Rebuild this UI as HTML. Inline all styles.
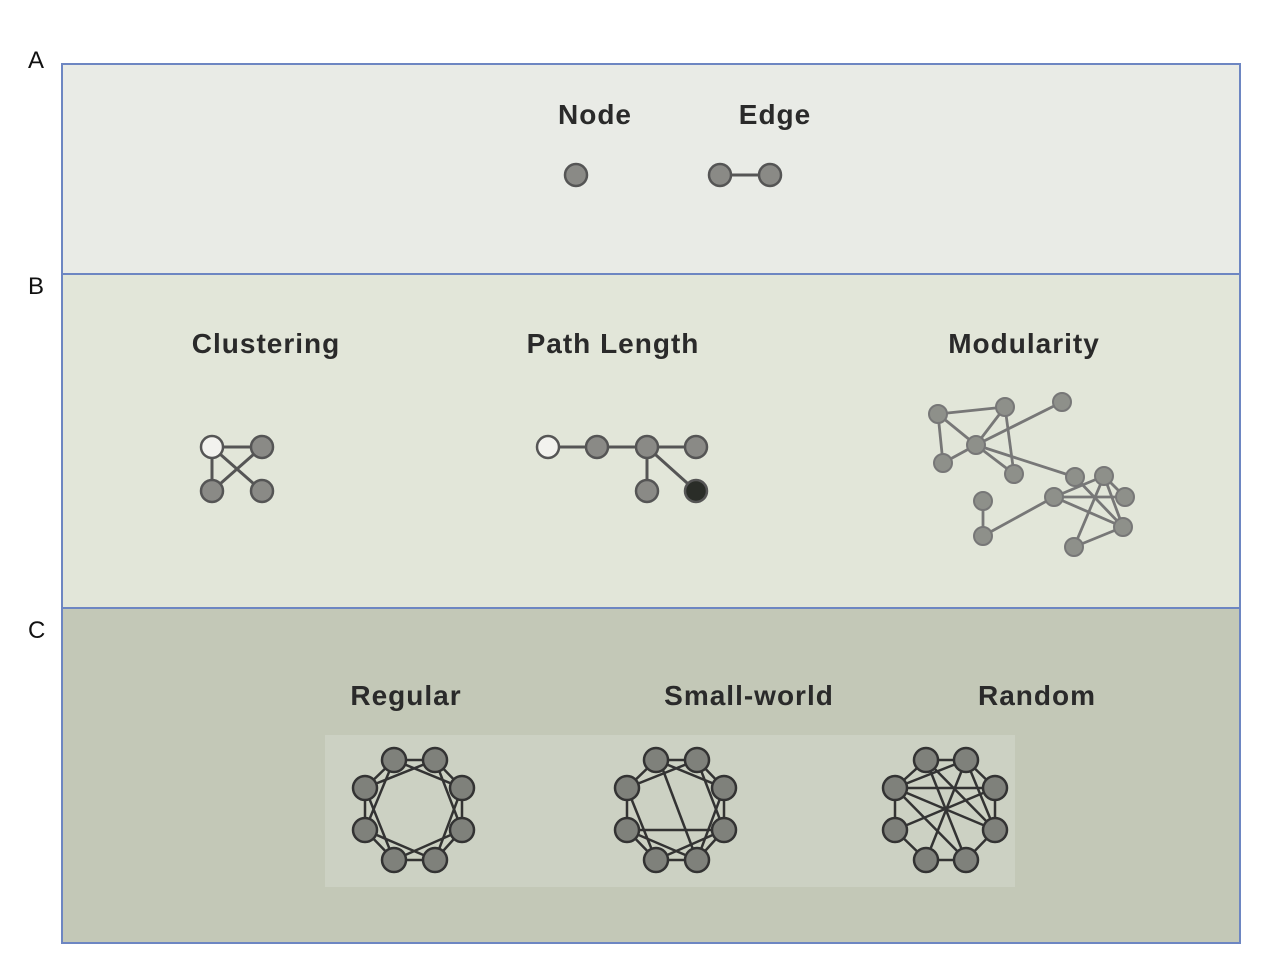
<!DOCTYPE html>
<html><head><meta charset="utf-8"><style>
html,body{margin:0;padding:0;background:#fff;}
svg{display:block;}
text{font-family:"Liberation Sans",sans-serif;}
</style></head><body>
<svg width="1276" height="977" viewBox="0 0 1276 977" xmlns="http://www.w3.org/2000/svg">
<rect x="0" y="0" width="1276" height="977" fill="#ffffff"/>
<rect x="62" y="64" width="1178" height="210" fill="#e9ebe6" stroke="#6d86c2" stroke-width="2"/>
<rect x="62" y="274" width="1178" height="334" fill="#e2e6d9" stroke="#6d86c2" stroke-width="2"/>
<rect x="62" y="608" width="1178" height="335" fill="#c3c8b7" stroke="#6d86c2" stroke-width="2"/>
<rect x="325" y="735" width="690" height="152" fill="#ccd1c3"/>
<g font-size="24" fill="#111">
<text x="28" y="68">A</text><text x="28" y="294">B</text><text x="28" y="638">C</text>
</g>
<g font-size="28" font-weight="bold" fill="#2a2a2a" text-anchor="middle" letter-spacing="1">
<text x="595" y="124">Node</text><text x="775" y="124">Edge</text>
<text x="266" y="353">Clustering</text><text x="613" y="353">Path Length</text><text x="1024" y="353">Modularity</text>
<text x="406" y="705">Regular</text><text x="749" y="705">Small-world</text><text x="1037" y="705">Random</text>
</g>
<g stroke="#555" stroke-width="3">
<line x1="720" y1="175" x2="770" y2="175"/>
<line x1="212" y1="447" x2="262" y2="447"/><line x1="212" y1="447" x2="212" y2="491"/><line x1="212" y1="447" x2="262" y2="491"/><line x1="262" y1="447" x2="212" y2="491"/>
<line x1="548" y1="447" x2="696" y2="447"/><line x1="647" y1="447" x2="647" y2="491"/><line x1="647" y1="447" x2="696" y2="491"/>
</g>
<g stroke="#555" stroke-width="2.5" fill="#8a8a86">
<circle cx="576" cy="175" r="11"/><circle cx="720" cy="175" r="11"/><circle cx="770" cy="175" r="11"/>
<circle cx="212" cy="447" r="11" fill="#f2f2ee"/><circle cx="262" cy="447" r="11"/><circle cx="212" cy="491" r="11"/><circle cx="262" cy="491" r="11"/>
<circle cx="548" cy="447" r="11" fill="#f2f2ee"/><circle cx="597" cy="447" r="11"/><circle cx="647" cy="447" r="11"/><circle cx="696" cy="447" r="11"/><circle cx="647" cy="491" r="11"/><circle cx="696" cy="491" r="11" fill="#2a2d28"/>
</g>
<g stroke="#777" stroke-width="2.8">
<line x1="938" y1="414" x2="1005" y2="407"/><line x1="938" y1="414" x2="976" y2="445"/><line x1="938" y1="414" x2="943" y2="463"/><line x1="943" y1="463" x2="976" y2="445"/><line x1="976" y1="445" x2="1005" y2="407"/><line x1="1005" y1="407" x2="1014" y2="474"/><line x1="976" y1="445" x2="1014" y2="474"/><line x1="976" y1="445" x2="1062" y2="402"/><line x1="976" y1="445" x2="1075" y2="477"/>
<line x1="983" y1="501" x2="983" y2="536"/><line x1="983" y1="536" x2="1054" y2="497"/><line x1="1054" y1="497" x2="1104" y2="476"/><line x1="1054" y1="497" x2="1125" y2="497"/><line x1="1054" y1="497" x2="1123" y2="527"/><line x1="1075" y1="477" x2="1123" y2="527"/><line x1="1104" y1="476" x2="1123" y2="527"/><line x1="1104" y1="476" x2="1074" y2="547"/><line x1="1074" y1="547" x2="1123" y2="527"/><line x1="1104" y1="476" x2="1125" y2="497"/>
</g>
<g stroke="#777" stroke-width="2" fill="#8e908a">
<circle cx="938" cy="414" r="9"/><circle cx="1005" cy="407" r="9"/><circle cx="1062" cy="402" r="9"/><circle cx="976" cy="445" r="9"/><circle cx="943" cy="463" r="9"/><circle cx="1014" cy="474" r="9"/><circle cx="1075" cy="477" r="9"/><circle cx="1104" cy="476" r="9"/><circle cx="1054" cy="497" r="9"/><circle cx="1125" cy="497" r="9"/><circle cx="983" cy="501" r="9"/><circle cx="1123" cy="527" r="9"/><circle cx="983" cy="536" r="9"/><circle cx="1074" cy="547" r="9"/>
</g>
<g stroke="#333" stroke-width="2.5" fill="none">
<polygon points="394,760 435,760 462,788 462,830 435,860 394,860 365,830 365,788"/>
<polygon points="394,760 462,788 435,860 365,830"/><polygon points="435,760 462,830 394,860 365,788"/>
<polygon points="656,760 697,760 724,788 724,830 697,860 656,860 627,830 627,788"/>
<polyline points="656,760 724,788 697,860 627,830"/><polyline points="697,760 724,830 656,860 627,788 697,760"/>
<line x1="663" y1="770" x2="697" y2="860"/><line x1="627" y1="830" x2="724" y2="830"/>
<polygon points="926,760 966,760 995,788 995,830 966,860 926,860 895,830 895,788"/>
<line x1="895" y1="788" x2="995" y2="788"/><line x1="895" y1="788" x2="966" y2="760"/><line x1="895" y1="788" x2="966" y2="860"/><line x1="895" y1="788" x2="995" y2="830"/><line x1="926" y1="760" x2="966" y2="860"/><line x1="966" y1="760" x2="926" y2="860"/><line x1="926" y1="760" x2="995" y2="830"/><line x1="995" y1="788" x2="895" y2="830"/><line x1="966" y1="760" x2="995" y2="830"/>
</g>
<g stroke="#333" stroke-width="2.5" fill="#7f817b">
<circle cx="394" cy="760" r="12"/><circle cx="435" cy="760" r="12"/><circle cx="462" cy="788" r="12"/><circle cx="462" cy="830" r="12"/><circle cx="435" cy="860" r="12"/><circle cx="394" cy="860" r="12"/><circle cx="365" cy="830" r="12"/><circle cx="365" cy="788" r="12"/>
<circle cx="656" cy="760" r="12"/><circle cx="697" cy="760" r="12"/><circle cx="724" cy="788" r="12"/><circle cx="724" cy="830" r="12"/><circle cx="697" cy="860" r="12"/><circle cx="656" cy="860" r="12"/><circle cx="627" cy="830" r="12"/><circle cx="627" cy="788" r="12"/>
<circle cx="926" cy="760" r="12"/><circle cx="966" cy="760" r="12"/><circle cx="995" cy="788" r="12"/><circle cx="995" cy="830" r="12"/><circle cx="966" cy="860" r="12"/><circle cx="926" cy="860" r="12"/><circle cx="895" cy="830" r="12"/><circle cx="895" cy="788" r="12"/>
</g>
</svg>
</body></html>
